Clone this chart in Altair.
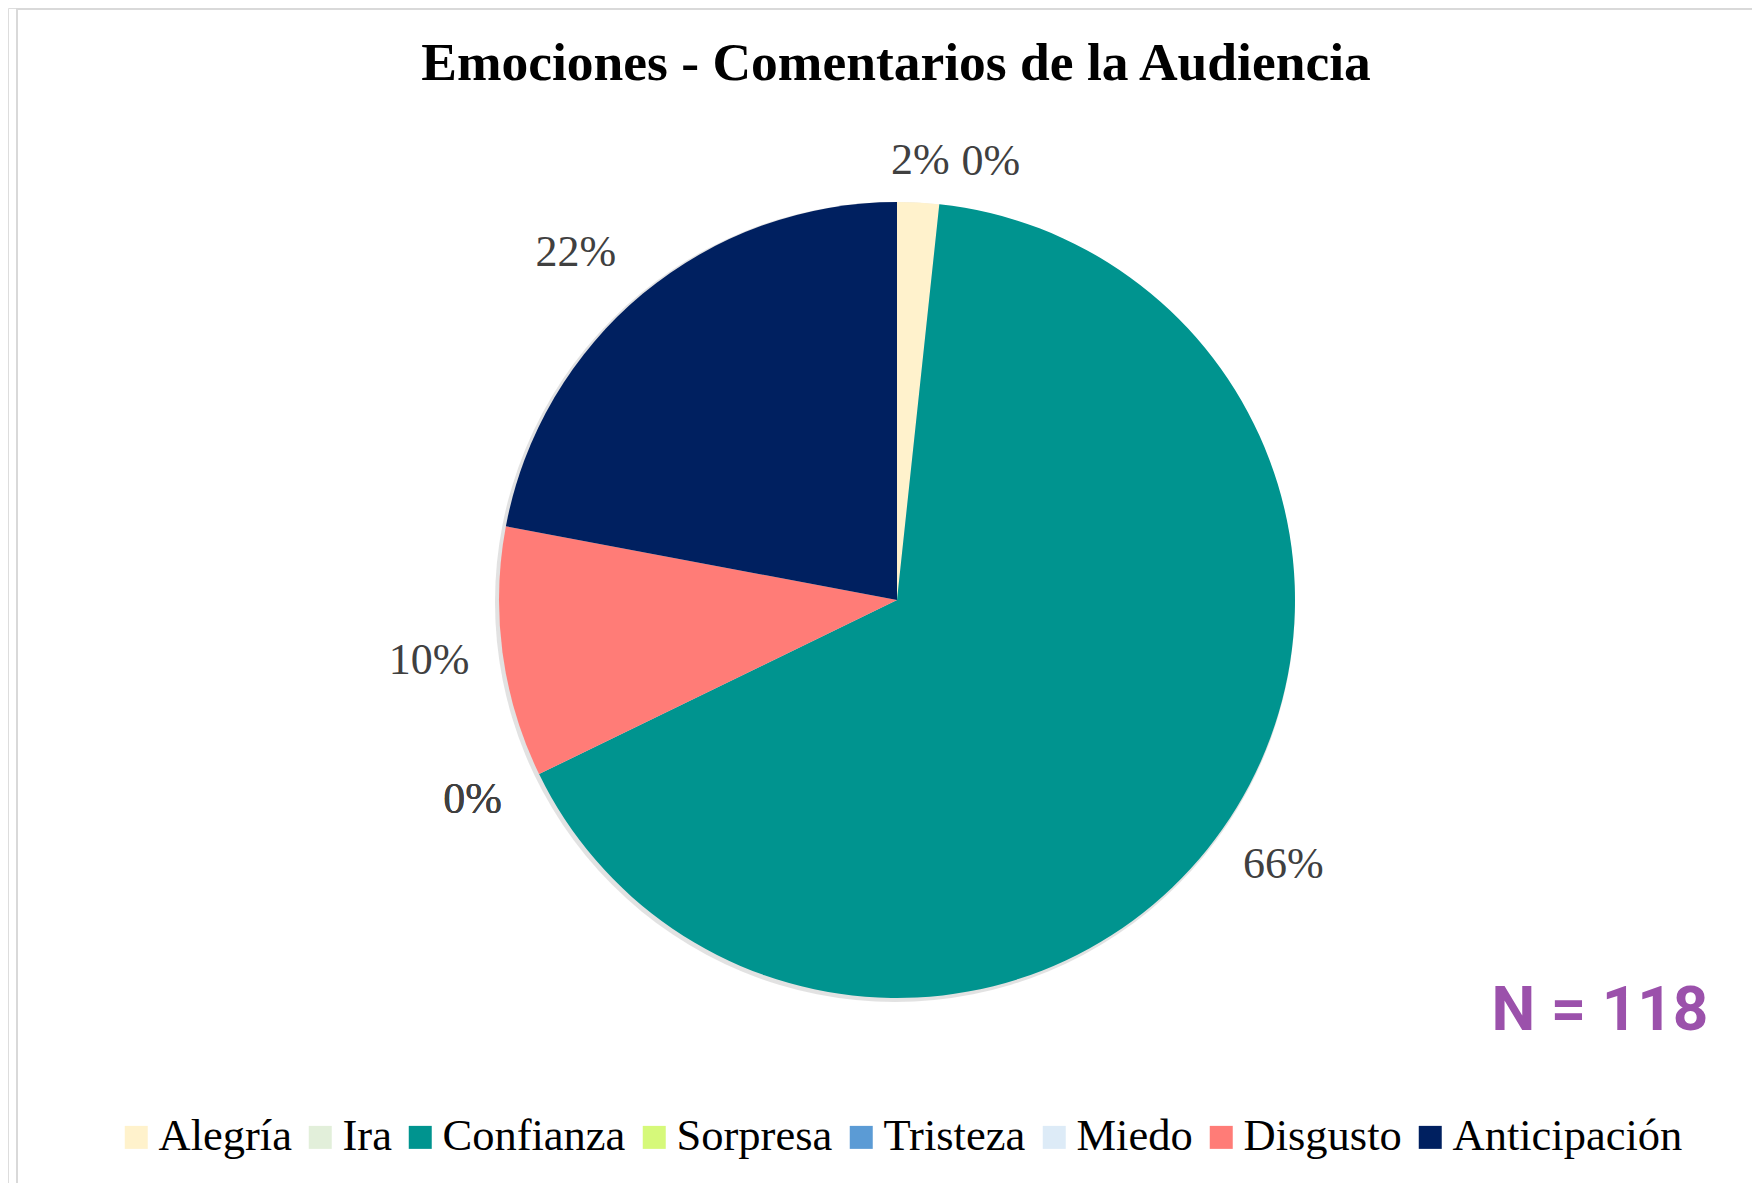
import math
import altair as alt
import pandas as pd

# ---- data ----
emociones = ["Alegría", "Ira", "Confianza", "Sorpresa", "Tristeza", "Miedo", "Disgusto", "Anticipación"]
conteos = [2, 0, 78, 0, 0, 0, 12, 26]
colores = ["#FFF2CC", "#E2EFDA", "#00948F", "#D6F97A", "#5B9BD5", "#DDEBF7", "#FF7C77", "#002060"]
orden = list(range(len(emociones)))
titulo = "Emociones - Comentarios de la Audiencia"
nota = "N = 118"

df = pd.DataFrame({"emocion": emociones, "conteo": conteos, "orden": orden})
one = pd.DataFrame({"k": [0]})

# ---- layout ----
W, H = 1744, 1175
CX, CY = 889, 592
R = 398
LABEL_R = 472
TOP_R = 440
FONT = "Liberation Serif"

color_scale = alt.Scale(domain=emociones, range=colores)

pie = alt.Chart(df).mark_arc(radius=R).encode(
    theta=alt.Theta("conteo:Q", stack=True),
    order=alt.Order("orden:Q"),
    color=alt.Color(
        "emocion:N", scale=color_scale, sort=emociones,
        legend=alt.Legend(
            title=None, orient="none", legendX=106, legendY=1107,
            direction="horizontal", symbolType="square", symbolSize=529,
            symbolStrokeWidth=0, labelFont=FONT, labelFontSize=44.5,
            labelColor="black", labelOffset=0, columnPadding=6, padding=0,
            labelLimit=0,
        ),
    ),
    x=alt.value(CX), y=alt.value(CY),
)

shadow = alt.Chart(one).mark_arc(
    radius=R + 2, theta=0, theta2=2 * math.pi, color="#cfcfcf", opacity=0.6
).encode(x=alt.value(CX - 2), y=alt.value(CY + 2))

lab_base = (
    alt.Chart(df)
    .transform_joinaggregate(total="sum(conteo)")
    .transform_window(cum="sum(conteo)", sort=[alt.SortField("orden")], frame=[None, 0])
    .transform_calculate(
        pct="datum.conteo / datum.total",
        ang="2 * PI * (datum.cum - datum.conteo / 2) / datum.total",
    )
)

txt_style = dict(font=FONT, fontSize=44, color="#404040", align="center", baseline="middle")


def label_layer(cond, radius, dx=0, dy=0):
    return lab_base.transform_filter(cond).mark_text(
        radius=radius, dx=dx, dy=dy, **txt_style
    ).encode(
        theta=alt.Theta("ang:Q", scale=None),
        text=alt.Text("pct:Q", format=".0%"),
        x=alt.value(CX), y=alt.value(CY),
    )


labels_main = label_layer("datum.orden >= 2 && datum.orden <= 5", LABEL_R, dy=-6)
labels_dis = label_layer("datum.orden == 6", LABEL_R, dy=-2)
labels_ant = label_layer("datum.orden == 7", LABEL_R, dx=-20, dy=16)
labels_a = label_layer("datum.orden == 0", TOP_R)
labels_b = label_layer("datum.orden == 1", TOP_R, dx=47)

title = alt.Chart(one).mark_text(
    text=titulo, font=FONT, fontSize=53.5, fontWeight="bold", color="black",
    align="center", baseline="alphabetic",
).encode(x=alt.value(888), y=alt.value(72))

n_text = alt.Chart(one).mark_text(
    text=nota, font="Roboto", fontSize=62, fontWeight="bold", color="#9B51AB",
    align="center", baseline="alphabetic",
).encode(x=alt.value(1592), y=alt.value(1022))

frame_top = alt.Chart(one).mark_rule(color="#D9D9D9", strokeWidth=4).encode(
    x=alt.value(8), x2=alt.value(W), y=alt.value(0)
)
frame_left = alt.Chart(one).mark_rule(color="#D9D9D9", strokeWidth=2).encode(
    x=alt.value(9), y=alt.value(0), y2=alt.value(H)
)

chart = (
    alt.layer(frame_top, frame_left, shadow, pie, labels_main, labels_dis, labels_ant,
              labels_a, labels_b, title, n_text)
    .properties(width=W, height=H, padding=0, autosize=alt.AutoSizeParams(type="none"))
    .configure_view(stroke="transparent")
    .configure(background="white")
)

chart.save("out.html", embed_options={"renderer": "svg", "actions": False})
